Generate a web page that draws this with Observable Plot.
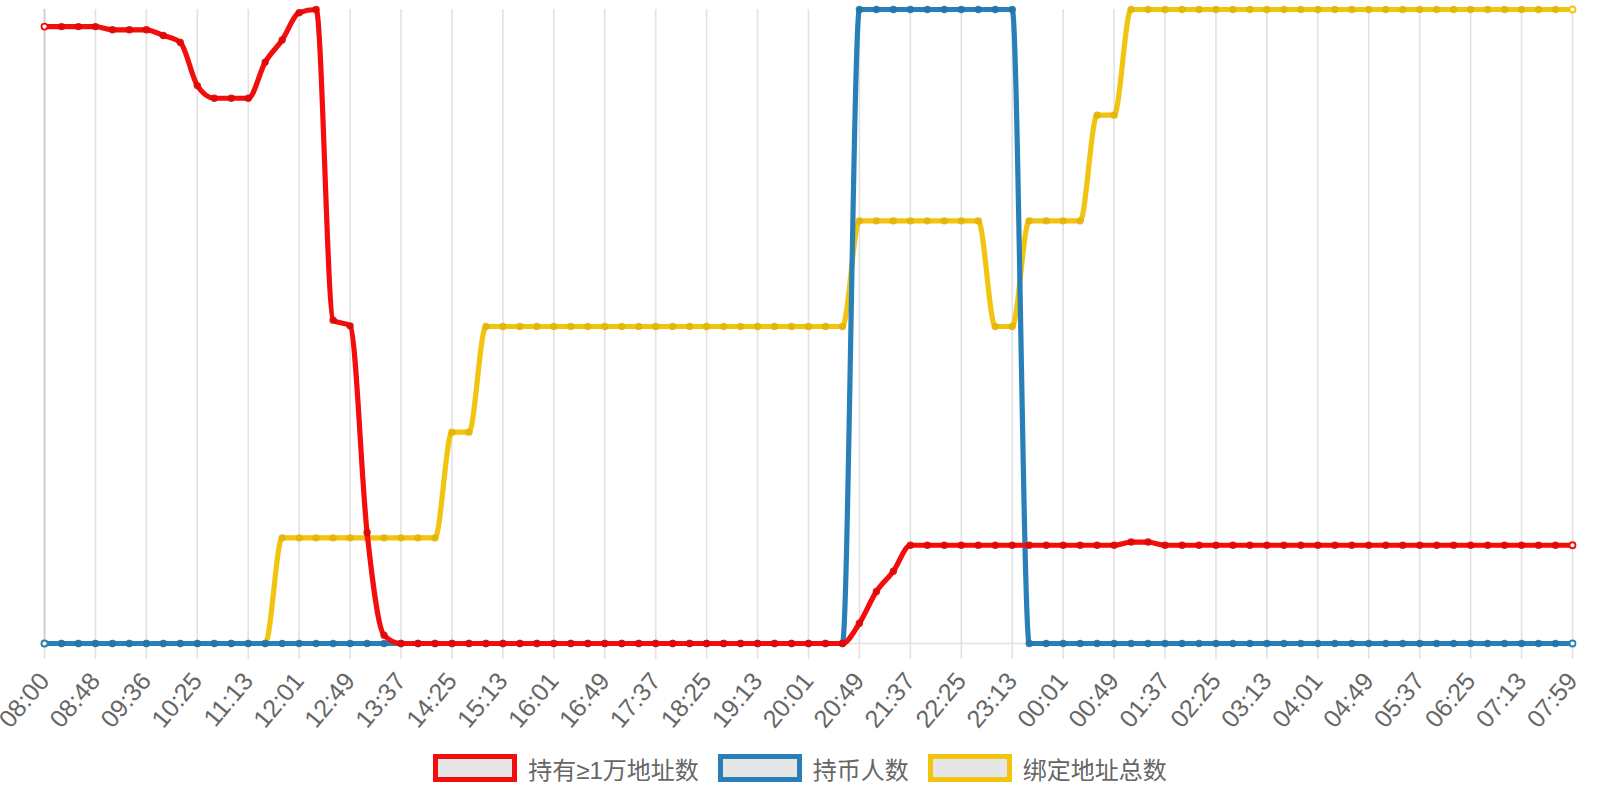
<!DOCTYPE html>
<html>
<head>
<meta charset="utf-8">
<script src="https://cdn.jsdelivr.net/npm/d3@7"></script>
<script src="https://cdn.jsdelivr.net/npm/@observablehq/plot@0.6"></script>
<style>
  html, body { margin: 0; padding: 0; background: #fff; }
  body { width: 1600px; height: 800px; overflow: hidden; font-family: "Liberation Sans", "Noto Sans CJK SC", sans-serif; }
  #chart svg { display: block; }
  .legend { display: flex; justify-content: center; align-items: center; margin-top: 9px; height: 28px; }
  .item { display: flex; align-items: center; margin: 0 9.5px; }
  .box { width: 84px; height: 28px; box-sizing: border-box; border: 5px solid; background: #e6e6e6; margin-right: 11px; }
  .lab { font-size: 24px; color: #666; font-family: "Liberation Sans", "Noto Sans CJK SC", sans-serif; }
</style>
</head>
<body>
<div id="chart"></div>
<div class="legend" id="legend"></div>
<script>
// x-axis tick labels (one every 3 points)
const tickLabels = ["08:00","08:48","09:36","10:25","11:13","12:01","12:49","13:37","14:25","15:13",
  "16:01","16:49","17:37","18:25","19:13","20:01","20:49","21:37","22:25","23:13",
  "00:01","00:49","01:37","02:25","03:13","04:01","04:49","05:37","06:25","07:13","07:59"];

// series names and colours
const seriesNames = ["持有≥1万地址数", "持币人数", "绑定地址总数"];
const seriesColors = ["#f30d0d", "#2980b9", "#f1c40f"];
const seriesDotColors = ["#dc0a0a", "#2473a8", "#e2b50b"];

// 持有≥1万地址数 (relative level)
const redValues = [
  97.3, 97.3, 97.3, 97.3, 96.8, 96.8, 96.8, 95.9, 94.8, 88.0,
  86.0, 86.0, 86.0, 91.7, 95.2, 99.5, 100, 51.0, 50.1, 17.5,
  1.3, 0, 0, 0, 0, 0, 0, 0, 0, 0,
  0, 0, 0, 0, 0, 0, 0, 0, 0, 0,
  0, 0, 0, 0, 0, 0, 0, 0, 3.2, 8.2,
  11.4, 15.5, 15.5, 15.5, 15.5, 15.5, 15.5, 15.5, 15.5, 15.5,
  15.5, 15.5, 15.5, 15.5, 16.0, 16.0, 15.5, 15.5, 15.5, 15.5,
  15.5, 15.5, 15.5, 15.5, 15.5, 15.5, 15.5, 15.5, 15.5, 15.5,
  15.5, 15.5, 15.5, 15.5, 15.5, 15.5, 15.5, 15.5, 15.5, 15.5,
  15.5
];

// 持币人数
const blueValues = [
  0, 0, 0, 0, 0, 0, 0, 0, 0, 0,
  0, 0, 0, 0, 0, 0, 0, 0, 0, 0,
  0, 0, 0, 0, 0, 0, 0, 0, 0, 0,
  0, 0, 0, 0, 0, 0, 0, 0, 0, 0,
  0, 0, 0, 0, 0, 0, 0, 0, 1, 1,
  1, 1, 1, 1, 1, 1, 1, 1, 0, 0,
  0, 0, 0, 0, 0, 0, 0, 0, 0, 0,
  0, 0, 0, 0, 0, 0, 0, 0, 0, 0,
  0, 0, 0, 0, 0, 0, 0, 0, 0, 0,
  0
];

// 绑定地址总数
const yellowValues = [
  0, 0, 0, 0, 0, 0, 0, 0, 0, 0,
  0, 0, 0, 0, 1, 1, 1, 1, 1, 1,
  1, 1, 1, 1, 2, 2, 3, 3, 3, 3,
  3, 3, 3, 3, 3, 3, 3, 3, 3, 3,
  3, 3, 3, 3, 3, 3, 3, 3, 4, 4,
  4, 4, 4, 4, 4, 4, 3, 3, 4, 4,
  4, 4, 5, 5, 6, 6, 6, 6, 6, 6,
  6, 6, 6, 6, 6, 6, 6, 6, 6, 6,
  6, 6, 6, 6, 6, 6, 6, 6, 6, 6,
  6
];

const allValues = [redValues, blueValues, yellowValues];
// each series on its own hidden axis: scale to its own range
const rowsFor = (k) => {
  const vals = allValues[k];
  const mx = d3.max(vals);
  return vals.map((v, i) => ({ i, v: v / mx * 100, k }));
};
const rows = [0, 1, 2].map(rowsFor);
const tickIdx = tickLabels.map((_, j) => j * 3);
const gridColor = "#e2e2e2";

const drawOrder = [2, 1, 0];
const marks = [
  Plot.ruleX(tickIdx, { x: d => d, stroke: gridColor, strokeWidth: 1.6 }),
  Plot.ruleX([0], { x: d => d, stroke: "#cccccc", strokeWidth: 1.6 }),
  Plot.ruleY([0], { y: d => d, stroke: gridColor, strokeWidth: 1.6 }),
  Plot.axisX(tickIdx, {
    tickFormat: d => tickLabels[d / 3],
    tickSize: 16, tickPadding: 17, tickRotate: -50,
    fontSize: 25, stroke: gridColor, strokeWidth: 1.6, fill: "#666",
    fontFamily: "Liberation Sans", label: null
  })
];
for (const k of drawOrder) {
  const r = rows[k];
  marks.push(Plot.line(r, { x: "i", y: "v", stroke: seriesColors[k], strokeWidth: 5.2, curve: "monotone-x" }));
  marks.push(Plot.dot(r.slice(1, -1), { x: "i", y: "v", r: 3.7, fill: seriesDotColors[k], fillOpacity: 0.9 }));
  marks.push(Plot.dot([r[0], r[r.length - 1]], { x: "i", y: "v", r: 3, fill: "white", stroke: seriesColors[k], strokeWidth: 1.8 }));
}

const chart = Plot.plot({
  width: 1600,
  height: 745,
  marginLeft: 44,
  marginRight: 28,
  marginTop: 9,
  marginBottom: 102,
  x: { domain: [0, 90] },
  y: { domain: [0, 100], axis: null },
  style: { background: "#fff", overflow: "visible" },
  marks
});
document.getElementById("chart").appendChild(chart);

const legend = document.getElementById("legend");
seriesNames.forEach((name, k) => {
  const item = document.createElement("div");
  item.className = "item";
  const box = document.createElement("span");
  box.className = "box";
  box.style.borderColor = seriesColors[k];
  const lab = document.createElement("span");
  lab.className = "lab";
  lab.textContent = name;
  item.appendChild(box);
  item.appendChild(lab);
  legend.appendChild(item);
});
</script>
</body>
</html>
